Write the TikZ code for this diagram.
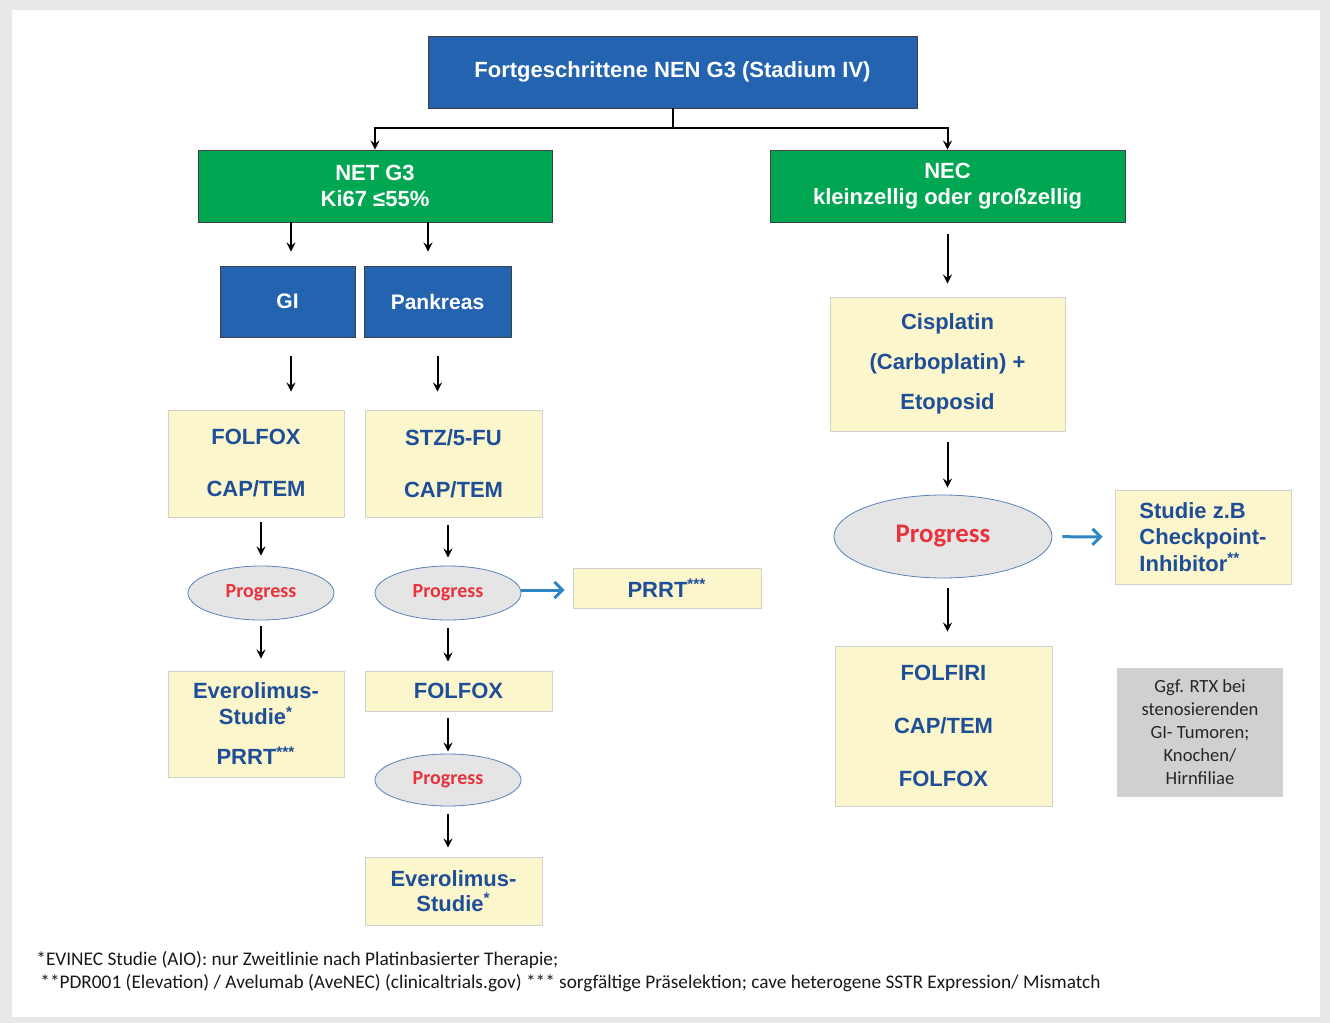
\documentclass[tikz,border=0pt]{standalone}
\usepackage{fontspec}
\setmainfont{Liberation Sans}
\newfontfamily\calibrifont{Carlito}
\usetikzlibrary{positioning, arrows, arrows.meta, shapes.geometric}
\definecolor{nenblue}{RGB}{36,99,176}
\definecolor{nengreen}{RGB}{0,166,81}
\definecolor{paleyellow}{RGB}{251,246,203}
\definecolor{textblue}{RGB}{31,78,153}
\definecolor{progred}{RGB}{232,50,60}
\definecolor{arrowblue}{RGB}{47,134,198}
\definecolor{ovalgray}{RGB}{229,229,229}
\definecolor{ovalline}{RGB}{91,130,184}
\definecolor{notegray}{RGB}{208,208,208}
\definecolor{framegray}{RGB}{232,232,232}
\tikzset{
    >=stealth, % pointed heads on the black arrows
    wh/.style 2 args={minimum width=#1, minimum height=#2}, % box size
    bluebox/.style={draw=black!75, fill=nenblue, text=white, inner sep=0pt, align=center,
        font=\bfseries\fontsize{10.5}{13}\selectfont},
    greenbox/.style={draw=black!75, fill=nengreen, text=white, inner sep=0pt, align=center,
        font=\bfseries\fontsize{11}{13}\selectfont},
    therapy/.style={draw=black!18, fill=paleyellow, text=textblue, inner sep=0pt, align=center,
        font=\bfseries\fontsize{11}{13}\selectfont},
    progress/.style={ellipse, draw=ovalline, fill=ovalgray, text=progred, inner sep=0pt,
        font=\calibrifont\bfseries\fontsize{10}{12}\selectfont},
    notebox/.style={fill=notegray, text=black!85, inner sep=0pt, align=center,
        font=\calibrifont\fontsize{9.3}{11.5}\selectfont},
    footnote/.style={anchor=west, inner sep=0pt, text=black!90,
        font=\calibrifont\fontsize{9.65}{11}\selectfont},
    flow/.style={->, line width=1pt},
    jump/.style={-{Straight Barb[length=4pt, width=8pt]}, line width=1.5pt, arrowblue},
}
\begin{document}
\begin{tikzpicture}[x=0.5pt, y=-0.5pt]
    % frame
    \fill[framegray] (0,0) rectangle (1330,1023);
    \fill[white] (12,10) rectangle (1320,1017);
    \useasboundingbox (0,0) rectangle (1330,1023);

    % top and the two groups
    \node[bluebox, wh={244.5pt}{36pt}, font=\bfseries\fontsize{11}{13}\selectfont] (nen) at (672.5,72) {Fortgeschrittene NEN G3 (Stadium IV)};
    \node[greenbox, wh={177pt}{36pt}] (net) at (375,186) {NET G3\\Ki67 ≤55\%};
    \node[greenbox, wh={177.5pt}{36pt}] (nec) at (947.5,186) {NEC\\kleinzellig oder großzellig};

    % NET G3 side
    \node[bluebox, wh={67.5pt}{35.5pt}] (gi) at (287.5,301.5) {GI};
    \node[bluebox, wh={73.5pt}{35.5pt}] (pank) at (437.5,301.5) {Pankreas};
    \node[therapy, wh={88pt}{53.5pt}, font=\bfseries\fontsize{11}{26}\selectfont] (folfox1) at (256,463.5) {FOLFOX\\CAP/TEM};
    \node[therapy, wh={88.5pt}{53.5pt}, font=\bfseries\fontsize{11}{26}\selectfont] (stz) at (453.5,463.5) {STZ/5-FU\\CAP/TEM};
    \node[progress, wh={73pt}{27pt}] (prog1) at (261,593) {Progress};
    \node[progress, wh={73pt}{27pt}] (prog2) at (448,593) {Progress};
    \node[therapy, wh={94pt}{20pt}] (prrt) at (667,588) {PRRT\textsuperscript{***}};
    \node[therapy, wh={88pt}{53pt}] (evero1) at (256,724) {Everolimus-\\Studie\textsuperscript{*}\\[7pt]PRRT\textsuperscript{***}};
    \node[therapy, wh={93.5pt}{20pt}] (folfox2) at (458.5,691) {FOLFOX};
    \node[progress, wh={73pt}{26pt}] (prog3) at (448,780) {Progress};
    \node[therapy, wh={88.5pt}{34pt}, font=\bfseries\fontsize{11}{12.5}\selectfont] (evero2) at (453.5,891) {Everolimus-\\Studie\textsuperscript{*}};

    % NEC side
    \node[therapy, wh={117.5pt}{67pt}, font=\bfseries\fontsize{11}{20}\selectfont] (cis) at (947.5,364) {Cisplatin\\(Carboplatin) +\\Etoposid};
    \node[progress, wh={109pt}{41.5pt}, font=\calibrifont\bfseries\fontsize{13.4}{15}\selectfont] (prog4) at (943,536.5) {Progress};
    \node[therapy, wh={88pt}{47pt}, align=left, font=\bfseries\fontsize{11}{13.25}\selectfont] (studie) at (1203,537) {Studie z.B\\Checkpoint-\\Inhibitor\textsuperscript{**}};
    \node[therapy, wh={108.5pt}{80pt}, font=\bfseries\fontsize{11}{26.5}\selectfont] (folfiri) at (943.5,726) {FOLFIRI\\CAP/TEM\\FOLFOX};
    \node[notebox, wh={83pt}{64.5pt}] (rtx) at (1200,732.5) {Ggf. RTX bei\\stenosierenden\\GI- Tumoren;\\Knochen/\\Hirnfiliae};

    % connectors
    \coordinate (fork) at (672.5,128);
    \draw[line width=1pt] (nen) -- (fork);
    \draw[flow] (fork) -| (net);
    \draw[flow] (fork) -| (nec);
    \draw[flow, shorten >=7pt] ([xshift=1.75pt]net.south -| gi) -- ([xshift=1.75pt]gi.north);
    \draw[flow, shorten >=7pt] ([xshift=-4.75pt]net.south -| pank) -- ([xshift=-4.75pt]pank.north);
    \draw[flow, shorten <=9.5pt, shorten >=9pt] ([xshift=1.75pt]gi.south) -- ([xshift=1.75pt]folfox1.north -| gi);
    \draw[flow, shorten <=9.5pt, shorten >=9pt] (pank) -- (stz.north -| pank);
    \draw[flow, shorten <=2.5pt, shorten >=5pt] (folfox1.south -| prog1) -- (prog1);
    \draw[flow, shorten <=4pt, shorten >=4pt] (stz.south -| prog2) -- (prog2);
    \draw[flow, shorten <=3pt, shorten >=6pt] (prog1) -- (evero1.north -| prog1);
    \draw[flow, shorten <=4pt, shorten >=4.5pt] (prog2) -- (folfox2.north -| prog2);
    \draw[flow, shorten <=3.5pt, shorten >=1pt] (folfox2.south -| prog3) -- (prog3);
    \draw[flow, shorten <=4pt, shorten >=4.5pt] (prog3) -- (evero2.north -| prog3);
    \draw[jump, shorten >=4pt] ([yshift=1.5pt]prog2.east) -- ([yshift=1.5pt]prog2.east -| prrt.west);
    \draw[flow, shorten <=6pt, shorten >=6.5pt] (nec) -- (cis);
    \draw[flow, shorten <=5.5pt, shorten >=3.5pt] (cis) -- (prog4.north -| cis);
    \draw[flow, shorten <=5pt, shorten >=7pt] (prog4.south -| cis) -- (folfiri.north -| cis);
    \draw[jump, shorten <=5pt, shorten >=6pt] (prog4) -- (studie);

    % footnotes
    \node[footnote] (fn1) at (36,960) {*EVINEC Studie (AIO): nur Zweitlinie nach Platinbasierter Therapie;};
    \node[footnote] (fn2) at (40,983) {**PDR001 (Elevation) / Avelumab (AveNEC) (clinicaltrials.gov) *** sorgfältige Präselektion; cave heterogene SSTR Expression/ Mismatch};
\end{tikzpicture}
\end{document}
